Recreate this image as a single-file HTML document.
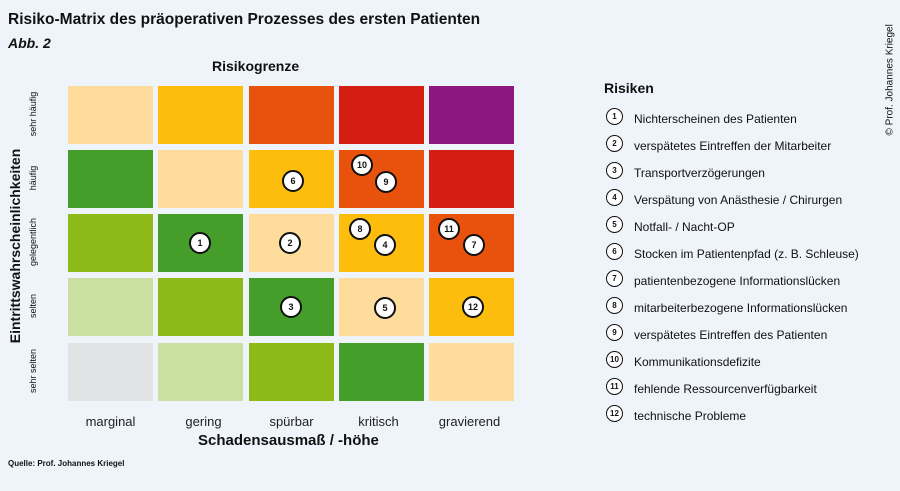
<!DOCTYPE html>
<html><head><meta charset="utf-8"><style>
body{margin:0;width:900px;height:491px;background:#eef4fa;font-family:"Liberation Sans",sans-serif;position:relative;overflow:hidden;color:#111}
.a{position:absolute}
.c{position:absolute;width:85px;height:58px}
.n{position:absolute;width:18px;height:18px;border:2px solid #111;border-radius:50%;background:#fff;font-size:9px;font-weight:bold;text-align:center;line-height:18px;box-sizing:content-box}
.l{position:absolute;left:606px;font-size:12px}
.l .n{left:0;top:-4px;width:15px;height:15px;line-height:15px;font-size:8px;border-width:1.5px}
.l span{position:absolute;left:28px;white-space:nowrap}
.ax{position:absolute;font-size:13px;color:#222;width:85px;text-align:center}
.yl{position:absolute;font-size:9px;transform:rotate(-90deg);transform-origin:center;white-space:nowrap;width:70px;text-align:center}
</style></head><body>
<div class="a" style="left:8px;top:11px;font-size:15.5px;font-weight:bold">Risiko-Matrix des präoperativen Prozesses des ersten Patienten</div>
<div class="a" style="left:8px;top:35px;font-size:14px;font-weight:bold;font-style:italic">Abb. 2</div>
<div class="a" style="left:212px;top:58px;font-size:14px;font-weight:bold">Risikogrenze</div>

<div class="c" style="left:68px;top:86px;background:#fddc9c"></div>
<div class="c" style="left:158px;top:86px;background:#fcbd0d"></div>
<div class="c" style="left:249px;top:86px;background:#e8520c"></div>
<div class="c" style="left:339px;top:86px;background:#d41e13"></div>
<div class="c" style="left:429px;top:86px;background:#8e1681"></div>

<div class="c" style="left:68px;top:150px;background:#459e2a"></div>
<div class="c" style="left:158px;top:150px;background:#fddc9c"></div>
<div class="c" style="left:249px;top:150px;background:#fcbd0d"></div>
<div class="c" style="left:339px;top:150px;background:#e8520c"></div>
<div class="c" style="left:429px;top:150px;background:#d41e13"></div>

<div class="c" style="left:68px;top:214px;background:#8dba19"></div>
<div class="c" style="left:158px;top:214px;background:#459e2a"></div>
<div class="c" style="left:249px;top:214px;background:#fddc9c"></div>
<div class="c" style="left:339px;top:214px;background:#fcbd0d"></div>
<div class="c" style="left:429px;top:214px;background:#e8520c"></div>

<div class="c" style="left:68px;top:278px;background:#c9e0a0"></div>
<div class="c" style="left:158px;top:278px;background:#8dba19"></div>
<div class="c" style="left:249px;top:278px;background:#459e2a"></div>
<div class="c" style="left:339px;top:278px;background:#fddc9c"></div>
<div class="c" style="left:429px;top:278px;background:#fcbd0d"></div>

<div class="c" style="left:68px;top:343px;background:#e2e3e4"></div>
<div class="c" style="left:158px;top:343px;background:#c9e0a0"></div>
<div class="c" style="left:249px;top:343px;background:#8dba19"></div>
<div class="c" style="left:339px;top:343px;background:#459e2a"></div>
<div class="c" style="left:429px;top:343px;background:#fddc9c"></div>

<div class="n" style="left:282px;top:170px">6</div>
<div class="n" style="left:351px;top:154px">10</div>
<div class="n" style="left:375px;top:171px">9</div>
<div class="n" style="left:189px;top:232px">1</div>
<div class="n" style="left:279px;top:232px">2</div>
<div class="n" style="left:349px;top:218px">8</div>
<div class="n" style="left:374px;top:234px">4</div>
<div class="n" style="left:438px;top:218px">11</div>
<div class="n" style="left:463px;top:234px">7</div>
<div class="n" style="left:280px;top:296px">3</div>
<div class="n" style="left:374px;top:297px">5</div>
<div class="n" style="left:462px;top:296px">12</div>

<div class="yl" style="left:-2px;top:109px">sehr häufig</div>
<div class="yl" style="left:-2px;top:173px">häufig</div>
<div class="yl" style="left:-2px;top:237px">gelegentlich</div>
<div class="yl" style="left:-2px;top:301px">selten</div>
<div class="yl" style="left:-2px;top:366px">sehr selten</div>
<div class="a" style="left:-85px;top:238px;width:200px;text-align:center;transform:rotate(-90deg);font-size:14px;font-weight:bold">Eintrittswahrscheinlichkeiten</div>

<div class="ax" style="left:68px;top:414px">marginal</div>
<div class="ax" style="left:161px;top:414px">gering</div>
<div class="ax" style="left:249px;top:414px">spürbar</div>
<div class="ax" style="left:336px;top:414px">kritisch</div>
<div class="ax" style="left:427px;top:414px">gravierend</div>
<div class="a" style="left:198px;top:432px;font-size:15px;font-weight:bold">Schadensausmaß / -höhe</div>
<div class="a" style="left:8px;top:459px;font-size:8px;font-weight:bold">Quelle: Prof. Johannes Kriegel</div>

<div class="a" style="left:604px;top:80px;font-size:14px;font-weight:bold">Risiken</div>
<div class="l" style="top:112px"><div class="n">1</div><span>Nichterscheinen des Patienten</span></div>
<div class="l" style="top:139px"><div class="n">2</div><span>verspätetes Eintreffen der Mitarbeiter</span></div>
<div class="l" style="top:166px"><div class="n">3</div><span>Transportverzögerungen</span></div>
<div class="l" style="top:193px"><div class="n">4</div><span>Verspätung von Anästhesie / Chirurgen</span></div>
<div class="l" style="top:220px"><div class="n">5</div><span>Notfall- / Nacht-OP</span></div>
<div class="l" style="top:247px"><div class="n">6</div><span>Stocken im Patientenpfad (z. B. Schleuse)</span></div>
<div class="l" style="top:274px"><div class="n">7</div><span>patientenbezogene Informationslücken</span></div>
<div class="l" style="top:301px"><div class="n">8</div><span>mitarbeiterbezogene Informationslücken</span></div>
<div class="l" style="top:328px"><div class="n">9</div><span>verspätetes Eintreffen des Patienten</span></div>
<div class="l" style="top:355px"><div class="n">10</div><span>Kommunikationsdefizite</span></div>
<div class="l" style="top:382px"><div class="n">11</div><span>fehlende Ressourcenverfügbarkeit</span></div>
<div class="l" style="top:409px"><div class="n">12</div><span>technische Probleme</span></div>

<div class="a" style="left:830px;top:70px;width:120px;transform:rotate(-90deg);font-size:10px;white-space:nowrap">© Prof. Johannes Kriegel</div>
</body></html>
